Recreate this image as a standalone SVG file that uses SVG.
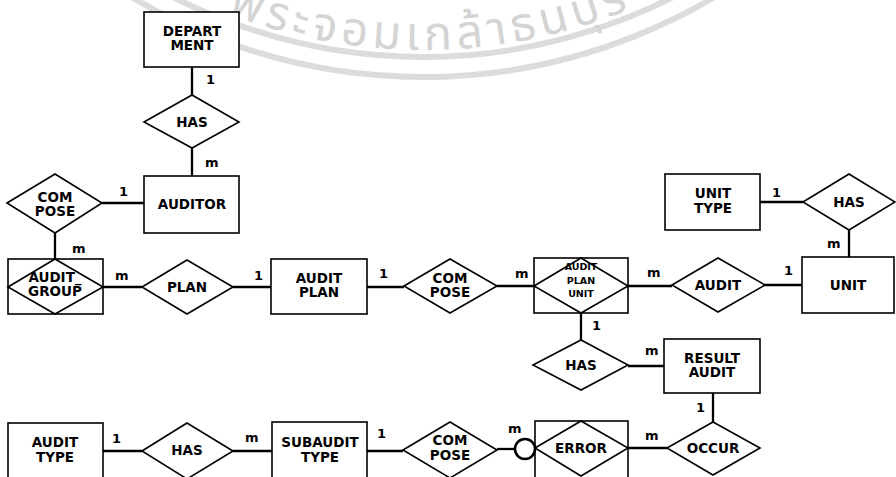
<svg xmlns="http://www.w3.org/2000/svg" width="896" height="477" viewBox="0 0 896 477">
<style>
.ent{fill:#fff;stroke:#000;stroke-width:1.6}
.rel{fill:#fff;stroke:#000;stroke-width:1.6}
.con line,.con path{stroke:#000;stroke-width:2.3;fill:none}
.t{font-family:"DejaVu Sans","Liberation Sans",sans-serif;font-weight:bold;font-size:13.5px;text-anchor:middle;fill:#000}
.s{font-size:9.5px}
.c{font-family:"DejaVu Sans","Liberation Sans",sans-serif;font-weight:bold;font-size:13px;fill:#000}
.wm{fill:none;stroke:#dcdcdc;stroke-width:6}
.wt{font-family:"Noto Sans Thai","Noto Sans",sans-serif;font-size:47px;fill:#d4d4d4;letter-spacing:5px}
</style>
<defs>
<path id="wmp" d="M108.7,-50 A544,544 0 0,0 737.3,-50"/>
</defs>
<rect width="896" height="477" fill="#fff"/>
<g id="watermark">
<circle class="wm" cx="423" cy="-494" r="551"/>
<circle class="wm" cx="423" cy="-494" r="571"/>
<text class="wt"><textPath href="#wmp" startOffset="135">พระจอมเกล้าธนบุรี</textPath></text>
</g>
<g id="connectors" class="con">
<line x1="192" y1="67" x2="192" y2="95"/>
<line x1="192" y1="148" x2="192" y2="176"/>
<line x1="102" y1="203" x2="144" y2="203"/>
<line x1="55" y1="233" x2="55" y2="259"/>
<line x1="103" y1="287" x2="142" y2="287"/>
<line x1="233" y1="287" x2="271" y2="287"/>
<line x1="367" y1="287" x2="404" y2="287"/>
<line x1="497" y1="286" x2="534" y2="286"/>
<line x1="628" y1="286" x2="672" y2="286"/>
<line x1="765" y1="285" x2="802" y2="285"/>
<line x1="760" y1="202" x2="803" y2="202"/>
<line x1="849" y1="230" x2="849" y2="257"/>
<line x1="581" y1="313" x2="581" y2="340"/>
<line x1="628" y1="366" x2="664" y2="366"/>
<line x1="713" y1="393" x2="713" y2="422"/>
<line x1="628" y1="448" x2="667" y2="448"/>
<line x1="497" y1="449" x2="515" y2="449"/>
<line x1="103" y1="451" x2="142" y2="451"/>
<line x1="233" y1="451" x2="272" y2="451"/>
<line x1="367" y1="451" x2="403" y2="451"/>
</g>
<g id="department">
<rect class="ent" x="144" y="12" width="95" height="55"/>
<text class="t" x="192" y="36">DEPART</text>
<text class="t" x="192" y="50">MENT</text>
</g>
<g id="has1">
<polygon class="rel" points="144,122 192,95 239,122 192,148"/>
<text class="t" x="192" y="127">HAS</text>
</g>
<g id="auditor">
<rect class="ent" x="144" y="176" width="95" height="57"/>
<text class="t" x="192" y="209">AUDITOR</text>
</g>
<g id="compose1">
<polygon class="rel" points="7,203 55,174 102,203 55,233"/>
<text class="t" x="55" y="202">COM</text>
<text class="t" x="55" y="216">POSE</text>
</g>
<g id="audit_group">
<rect class="ent" x="8" y="259" width="95" height="55"/>
<polygon class="rel" points="8,287 55,259 103,287 55,314"/>
<text class="t" x="55" y="282">AUDIT_</text>
<text class="t" x="55" y="296">GROUP</text>
</g>
<g id="plan">
<polygon class="rel" points="142,287 187,260 233,287 187,314"/>
<text class="t" x="187" y="292">PLAN</text>
</g>
<g id="audit_plan">
<rect class="ent" x="271" y="259" width="96" height="55"/>
<text class="t" x="319" y="283">AUDIT</text>
<text class="t" x="319" y="297">PLAN</text>
</g>
<g id="compose2">
<polygon class="rel" points="404,286 450,259 497,286 450,313"/>
<text class="t" x="450" y="283">COM</text>
<text class="t" x="450" y="297">POSE</text>
</g>
<g id="audit_plan_unit">
<rect class="ent" x="534" y="258" width="94" height="55"/>
<polygon class="rel" points="534,286 581,258 628,286 581,313"/>
<text class="t s" x="581" y="270">AUDIT</text>
<text class="t s" x="581" y="284">PLAN</text>
<text class="t s" x="581" y="297">UNIT</text>
</g>
<g id="audit">
<polygon class="rel" points="672,285 718,258 765,285 718,312"/>
<text class="t" x="718" y="290">AUDIT</text>
</g>
<g id="unit">
<rect class="ent" x="802" y="257" width="92" height="56"/>
<text class="t" x="848" y="290">UNIT</text>
</g>
<g id="unit_type">
<rect class="ent" x="665" y="174" width="95" height="56"/>
<text class="t" x="713" y="198">UNIT</text>
<text class="t" x="713" y="213">TYPE</text>
</g>
<g id="has2">
<polygon class="rel" points="803,202 849,174 895,202 849,230"/>
<text class="t" x="849" y="207">HAS</text>
</g>
<g id="has3">
<polygon class="rel" points="533,365 581,340 628,365 581,390"/>
<text class="t" x="581" y="370">HAS</text>
</g>
<g id="result_audit">
<rect class="ent" x="664" y="339" width="96" height="54"/>
<text class="t" x="712" y="363">RESULT</text>
<text class="t" x="712" y="377">AUDIT</text>
</g>
<g id="occur">
<polygon class="rel" points="667,448 713,422 760,448 713,475"/>
<text class="t" x="713" y="453">OCCUR</text>
</g>
<g id="error">
<rect class="ent" x="535" y="421" width="93" height="60"/>
<polygon class="rel" points="535,448 581,421 628,448 581,476"/>
<text class="t" x="581" y="453">ERROR</text>
</g>
<g id="optional">
<circle cx="525" cy="449" r="10" fill="#fff" stroke="#000" stroke-width="2.6"/>
</g>
<g id="audit_type">
<rect class="ent" x="8" y="423" width="95" height="60"/>
<text class="t" x="55" y="447">AUDIT</text>
<text class="t" x="55" y="462">TYPE</text>
</g>
<g id="has4">
<polygon class="rel" points="142,451 187,423 233,451 187,479"/>
<text class="t" x="187" y="455">HAS</text>
</g>
<g id="subaudit_type">
<rect class="ent" x="272" y="422" width="95" height="60"/>
<text class="t" x="320" y="447">SUBAUDIT</text>
<text class="t" x="320" y="462">TYPE</text>
</g>
<g id="compose3">
<polygon class="rel" points="403,450 450,422 497,450 450,478"/>
<text class="t" x="450" y="445">COM</text>
<text class="t" x="450" y="460">POSE</text>
</g>
<g id="cardinalities">
<text class="c" x="206" y="84">1</text>
<text class="c" x="205" y="167">m</text>
<text class="c" x="119" y="196">1</text>
<text class="c" x="72" y="253">m</text>
<text class="c" x="115" y="280">m</text>
<text class="c" x="254" y="280">1</text>
<text class="c" x="379" y="278">1</text>
<text class="c" x="515" y="278">m</text>
<text class="c" x="647" y="277">m</text>
<text class="c" x="784" y="275">1</text>
<text class="c" x="772" y="197">1</text>
<text class="c" x="827" y="248">m</text>
<text class="c" x="592" y="330">1</text>
<text class="c" x="645" y="355">m</text>
<text class="c" x="696" y="412">1</text>
<text class="c" x="645" y="440">m</text>
<text class="c" x="508" y="433">m</text>
<text class="c" x="112" y="443">1</text>
<text class="c" x="245" y="442">m</text>
<text class="c" x="377" y="438">1</text>
</g>
</svg>
